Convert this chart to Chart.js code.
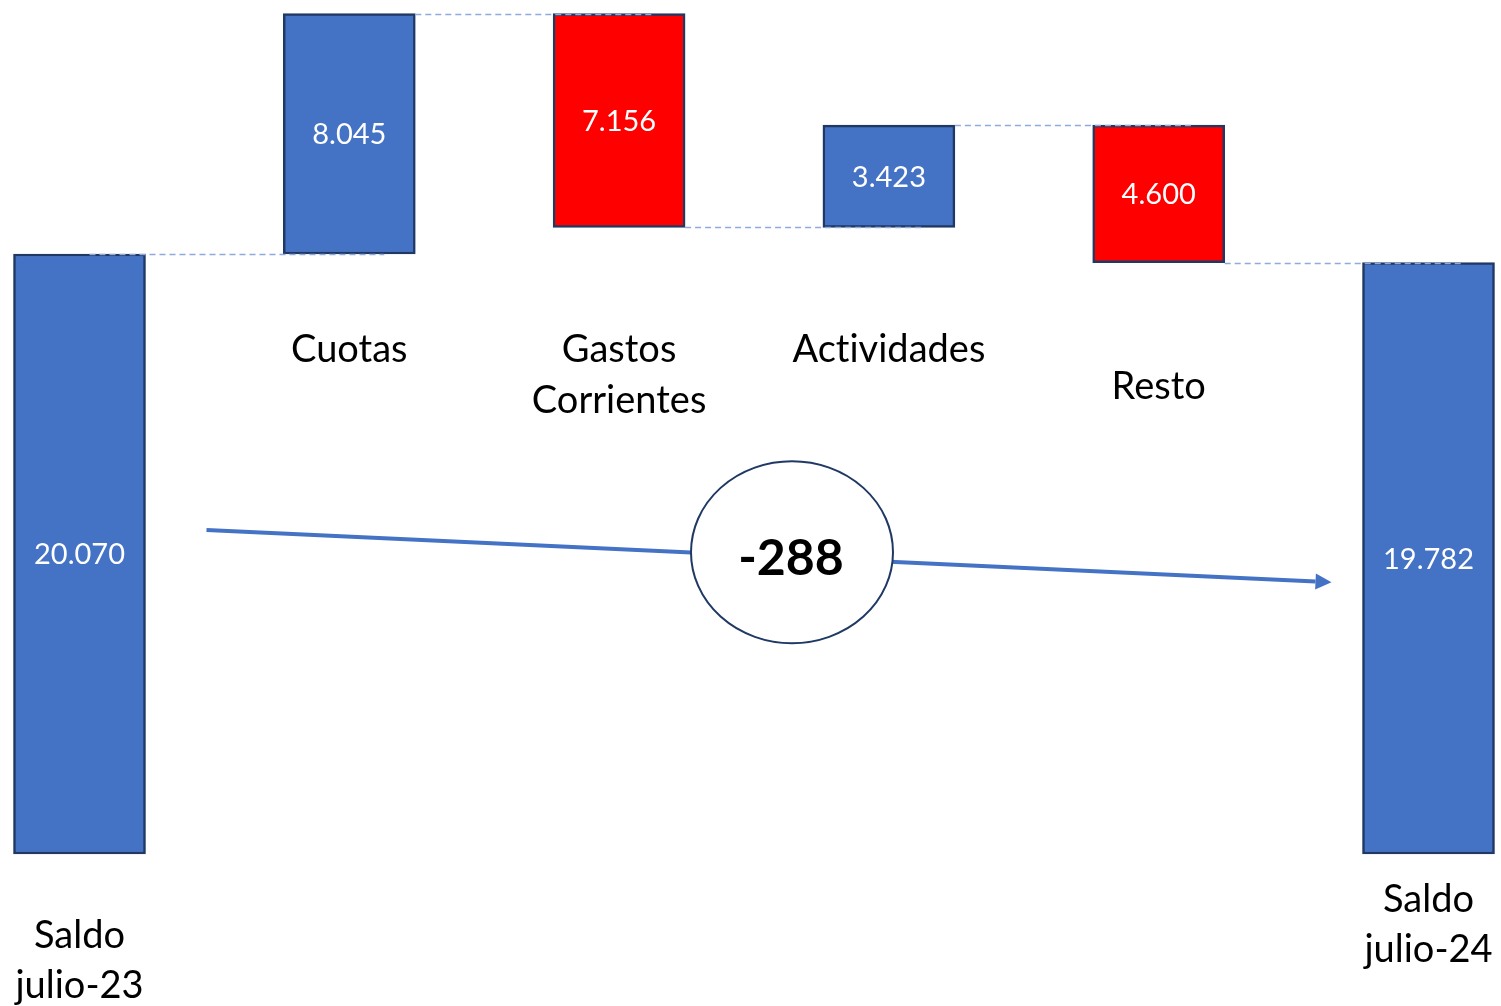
<!DOCTYPE html>
<html>
<head>
<meta charset="utf-8">
<script src="https://cdn.jsdelivr.net/npm/chart.js@4/dist/chart.umd.min.js"></script>
<style>
  html, body { margin: 0; padding: 0; background: #ffffff; }
  #wrap { width: 1501px; height: 1006px; }
</style>
</head>
<body>
<div id="wrap"><canvas id="c" width="1501" height="1006"></canvas></div>
<script>
// ---- data ----
const categories = [['Saldo', 'julio-23'], ['Cuotas'], ['Gastos', 'Corrientes'], ['Actividades'], ['Resto'], ['Saldo', 'julio-24']];
const startBalance = 20070;
const changes = [8045, -7156, 3423, -4600];
const endBalance = 19782;
const netChange = endBalance - startBalance; // -288

// ---- build floating bars from data ----
const ranges = [];
const shown = [];
ranges.push([0, startBalance]);
shown.push(startBalance);
let run = startBalance;
changes.forEach(v => {
  ranges.push([run, run + v]);
  shown.push(Math.abs(v));
  run += v;
});
ranges.push([0, endBalance]);
shown.push(endBalance);
const peak = Math.max(...ranges.map(r => Math.max(r[0], r[1])));
const kinds = ['total', ...changes.map(v => v >= 0 ? 'up' : 'down'), 'total'];

function fmt(n) {
  const s = String(Math.abs(n)).replace(/\B(?=(\d{3})+(?!\d))/g, '.');
  return (n < 0 ? '-' : '') + s;
}

// ---- layout (styling only) ----
const BLUE = '#4472C4', RED = '#FF0000', NAVY = '#1F3864', DASH = '#8FAADC';
const labelLineY = [[936, 986], [350], [350, 401], [350], [387], [900, 950]];
const FONT = 'Lato, "Open Sans", sans-serif';

const decor = {
  id: 'decor',
  afterDatasetsDraw(chart) {
    const ctx = chart.ctx;
    const meta = chart.getDatasetMeta(0);
    const bars = meta.data;
    const y = chart.scales.y;

    // dashed connectors
    ctx.save();
    ctx.strokeStyle = DASH;
    ctx.lineWidth = 1.5;
    ctx.setLineDash([6, 4]);
    for (let i = 0; i < bars.length - 1; i++) {
      const level = ranges[i][1];
      const py = Math.round(y.getPixelForValue(level)) + 0.5;
      const x0 = i === 0 ? bars[i].x + 10 : bars[i].x + bars[i].width / 2;
      const x1 = bars[i + 1].x + 35;
      ctx.beginPath();
      ctx.moveTo(x0, py);
      ctx.lineTo(x1, py);
      ctx.stroke();
    }
    ctx.restore();

    // value labels
    ctx.save();
    if ('letterSpacing' in ctx) ctx.letterSpacing = '0.01px';
    ctx.fillStyle = '#ffffff';
    ctx.font = '29px ' + FONT;
    ctx.textAlign = 'center';
    ctx.textBaseline = 'middle';
    bars.forEach((b, i) => {
      const mid = (b.y + b.base) / 2;
      ctx.fillText(fmt(shown[i]), b.x, mid + 1);
    });
    ctx.restore();

    // category labels
    ctx.save();
    if ('letterSpacing' in ctx) ctx.letterSpacing = '0.01px';
    ctx.fillStyle = '#000000';
    ctx.font = '38px ' + FONT;
    ctx.textAlign = 'center';
    ctx.textBaseline = 'middle';
    categories.forEach((lines, i) => {
      lines.forEach((t, j) => {
        ctx.fillText(t, bars[i].x, labelLineY[i][j]);
      });
    });
    ctx.restore();

    // arrow from first to last balance
    const b0 = bars[0], b5 = bars[bars.length - 1];
    const sx = b0.x + b0.width / 2 + 61;
    const sy = (b0.y + b0.base) / 2 - 24;
    const ex = b5.x - b5.width / 2 - 31;
    const ey = (b5.y + b5.base) / 2 + 24;
    const ang = Math.atan2(ey - sy, ex - sx);
    const headLen = 16, headW = 8;
    ctx.save();
    ctx.strokeStyle = BLUE;
    ctx.fillStyle = BLUE;
    ctx.lineWidth = 4;
    ctx.beginPath();
    ctx.moveTo(sx, sy);
    ctx.lineTo(ex - headLen * Math.cos(ang), ey - headLen * Math.sin(ang));
    ctx.stroke();
    ctx.beginPath();
    ctx.moveTo(ex, ey);
    ctx.lineTo(ex - headLen * Math.cos(ang) + headW * Math.sin(ang), ey - headLen * Math.sin(ang) - headW * Math.cos(ang));
    ctx.lineTo(ex - headLen * Math.cos(ang) - headW * Math.sin(ang), ey - headLen * Math.sin(ang) + headW * Math.cos(ang));
    ctx.closePath();
    ctx.fill();

    // ellipse with net change
    const cx = (chart.chartArea.left + chart.chartArea.right) / 2 + 38;
    const cy = sy + (cx - sx) * Math.tan(ang) - 5;
    ctx.beginPath();
    ctx.ellipse(cx, cy, 101, 91, 0, 0, Math.PI * 2);
    ctx.fillStyle = '#ffffff';
    ctx.fill();
    ctx.lineWidth = 2;
    ctx.strokeStyle = NAVY;
    ctx.stroke();
    ctx.fillStyle = '#000000';
    ctx.font = 'bold 50px ' + FONT;
    ctx.textAlign = 'center';
    ctx.textBaseline = 'middle';
    ctx.fillText(fmt(netChange), cx - 1, cy + 7);
    ctx.restore();
  }
};

new Chart(document.getElementById('c'), {
  type: 'bar',
  data: {
    labels: categories,
    datasets: [{
      data: ranges,
      backgroundColor: kinds.map(k => k === 'down' ? RED : BLUE),
      borderColor: NAVY,
      borderWidth: 2.5,
      borderSkipped: false,
      barThickness: 132,
      clip: false
    }]
  },
  options: {
    responsive: false,
    animation: false,
    layout: { padding: { left: 79.5, right: 72.5, top: 13.5, bottom: 152 } },
    plugins: { legend: { display: false }, tooltip: { enabled: false } },
    scales: {
      x: { display: false, offset: false, grid: { display: false } },
      y: { display: false, min: 0, max: peak }
    }
  },
  plugins: [decor]
});
</script>
</body>
</html>
